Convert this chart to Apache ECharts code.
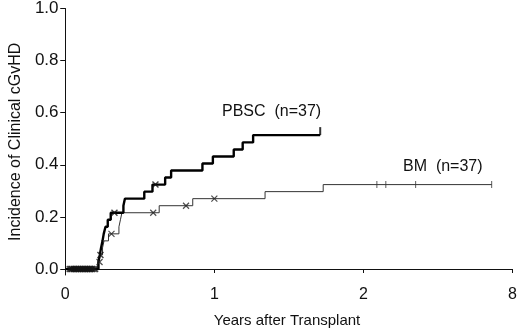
<!DOCTYPE html>
<html>
<head>
<meta charset="utf-8">
<script src="https://cdn.jsdelivr.net/npm/echarts@6/dist/echarts.min.js"></script>
<style>
  html, body { margin: 0; padding: 0; background: #fff; }
  #chart { width: 520px; height: 333px; }
</style>
</head>
<body>
<div id="chart"></div>
<script>
// step points: from each x on, the curve holds its y
var pbscX = [0, 0.222, 0.232, 0.24, 0.25, 0.258, 0.27, 0.285, 0.305, 0.39, 0.40, 0.53, 0.585, 0.67, 0.71, 0.92, 0.99, 1.13, 1.19, 1.26, 1.71];
var pbscY = [0, 0.027, 0.054, 0.081, 0.108, 0.135, 0.162, 0.189, 0.216, 0.243, 0.270, 0.297, 0.324, 0.351, 0.378, 0.405, 0.432, 0.459, 0.486, 0.514, 0.514];

var bmX = [0, 0.225, 0.235, 0.25, 0.26, 0.29, 0.36, 0.37, 0.38, 0.63, 0.855, 1.34, 1.73, 2.86];
var bmY = [0, 0.027, 0.054, 0.081, 0.108, 0.135, 0.162, 0.189, 0.216, 0.243, 0.270, 0.297, 0.324, 0.324];

// censored cases (x marks)
var pbscCensX = [0.03, 0.045, 0.06, 0.075, 0.09, 0.105, 0.12, 0.135, 0.15, 0.165, 0.18, 0.20, 0.236, 0.33, 0.605];
var pbscCensY = [0, 0, 0, 0, 0, 0, 0, 0, 0, 0, 0, 0, 0.054, 0.216, 0.324];
var bmCensX = [0.04, 0.055, 0.07, 0.085, 0.10, 0.115, 0.13, 0.145, 0.16, 0.175, 0.19, 0.23, 0.31, 0.59, 0.81, 1.0];
var bmCensY = [0, 0, 0, 0, 0, 0, 0, 0, 0, 0, 0, 0.027, 0.135, 0.216, 0.243, 0.270];
// late censored cases (vertical ticks)
var pbscTickX = [1.71];
var pbscTickY = [0.514];
var bmTickX = [2.09, 2.15, 2.35, 2.86];
var bmTickY = [0.324, 0.324, 0.324, 0.324];

var xTicks = [0, 1, 2, 3];
var xTickLabels = ['0', '1', '2', '8'];
var yTicks = [0, 0.2, 0.4, 0.6, 0.8, 1.0];

function pairs(xs, ys) {
  return xs.map(function (x, i) { return [x, ys[i]]; });
}

var crossSym = 'path://M0,0L10,10M10,0L0,10';
var font = 'Liberation Sans, Arial, Helvetica, sans-serif';

var chart = echarts.init(document.getElementById('chart'));
var option = {
  animation: false,
  grid: { left: 55, right: 5, top: 6, bottom: 56 },
  xAxis: {
    type: 'value',
    min: -0.025,
    max: 3,
    name: 'Years after Transplant',
    nameLocation: 'middle',
    nameGap: 38,
    nameTextStyle: { fontFamily: font, fontSize: 15, color: '#111' },
    splitLine: { show: false },
    axisLine: { show: true, lineStyle: { color: '#111', width: 1 } },
    axisTick: { show: true, customValues: xTicks, length: 4, lineStyle: { color: '#111' } },
    axisLabel: {
      customValues: xTicks,
      margin: 12,
      fontFamily: font, fontSize: 16, color: '#111',
      formatter: function (v) { return xTickLabels[xTicks.indexOf(v)]; }
    }
  },
  yAxis: {
    type: 'value',
    min: -0.023,
    max: 1.0,
    name: 'Incidence of Clinical cGvHD',
    nameLocation: 'middle',
    nameGap: 33,
    nameTextStyle: { fontFamily: font, fontSize: 16, color: '#111' },
    splitLine: { show: false },
    axisLine: { show: true, lineStyle: { color: '#111', width: 1 } },
    axisTick: { show: true, customValues: yTicks, length: 5, lineStyle: { color: '#111' } },
    axisLabel: {
      customValues: yTicks,
      margin: 3,
      fontFamily: font, fontSize: 17, color: '#111',
      formatter: function (v) { return v.toFixed(1); }
    }
  },
  graphic: [
    { type: 'text', left: 222, top: 104, style: { text: 'PBSC  (n=37)', font: '16px ' + font, fill: '#111' } },
    { type: 'text', left: 403, top: 159, style: { text: 'BM  (n=37)', font: '16px ' + font, fill: '#111' } }
  ],
  series: [
    {
      type: 'line', step: 'end', data: pairs(bmX, bmY), showSymbol: false,
      lineStyle: { color: '#333', width: 1 }, z: 2
    },
    {
      type: 'line', step: 'end', data: pairs(pbscX, pbscY), showSymbol: false,
      lineStyle: { color: '#000', width: 2.4 }, z: 3
    },
    {
      type: 'scatter', data: pairs(bmCensX, bmCensY), symbol: crossSym, symbolSize: 6,
      itemStyle: { color: 'none', borderColor: '#222', borderWidth: 1.2 }, z: 4
    },
    {
      type: 'scatter', data: pairs(pbscCensX, pbscCensY), symbol: crossSym, symbolSize: 6,
      itemStyle: { color: 'none', borderColor: '#111', borderWidth: 1.4 }, z: 4
    },
    {
      type: 'scatter', data: pairs(bmTickX, bmTickY), symbol: 'rect', symbolSize: [1, 7],
      itemStyle: { color: '#333' }, z: 4
    },
    {
      type: 'scatter', data: pairs(pbscTickX, pbscTickY), symbol: 'rect', symbolSize: [2, 8],
      symbolOffset: [0, -4],
      itemStyle: { color: '#000' }, z: 4
    }
  ]
};
chart.setOption(option);
</script>
</body>
</html>
